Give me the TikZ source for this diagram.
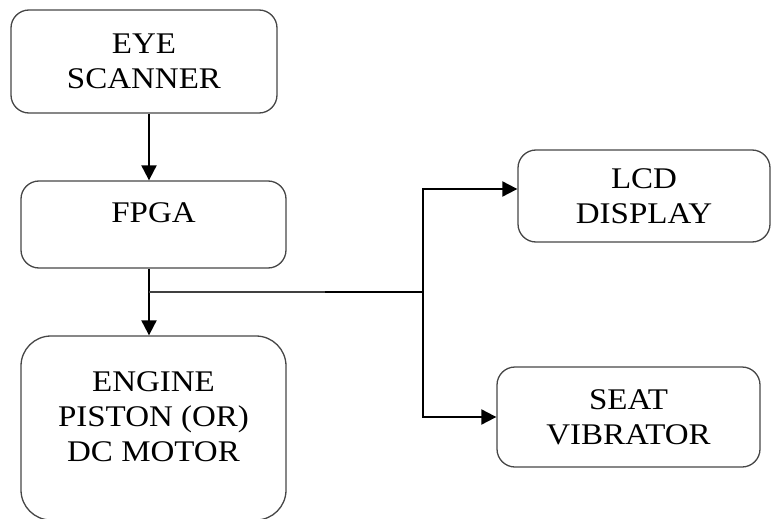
\documentclass[tikz,border=0pt]{standalone}
\usepackage{fontspec}
\setmainfont{Liberation Serif}[FakeStretch=1.1]
\usetikzlibrary{arrows.meta,positioning}
\definecolor{boxline}{RGB}{70,70,70}

\begin{document}
\begin{tikzpicture}[x=1pt,y=-1pt,font=\fontsize{30}{35}\selectfont,
    block/.style={draw=boxline,line width=1.3pt,rounded corners=18pt,align=center,inner sep=0pt},
    flow/.style={line width=2pt,-{Triangle[length=15pt,width=15pt]}}]
  \useasboundingbox (0,0) rectangle (771,519);
  % blocks
  \node[block,minimum width=266,minimum height=103] (eye) at (144,61.5) {EYE\\SCANNER};
  \node[block,minimum width=265,minimum height=87,text depth=23pt] (fpga) at (153.5,224.5) {FPGA};
  \node[block,minimum width=265,minimum height=184,rounded corners=30pt,text depth=22pt] (engine) at (153.5,428) {ENGINE\\PISTON (OR)\\DC MOTOR};
  \node[block,minimum width=252,minimum height=92] (lcd) at (644,196) {LCD\\DISPLAY};
  \node[block,minimum width=263,minimum height=100] (seat) at (628.5,417) {SEAT\\VIBRATOR};
  % wiring
  \coordinate (trunk) at (149,292);
  \coordinate (split) at (325,292);
  \coordinate (bus) at (423,292);
  \draw[flow] (eye.south -| trunk) -- (fpga.north -| trunk);
  \draw[flow] (fpga.south -| trunk) -- (engine.north -| trunk);
  \draw[line width=1.3pt,black!75] (trunk) -- (split);
  \draw[line width=2pt] (split) -- (bus);
  \draw[flow] (bus) |- ([yshift=7pt]lcd.west);
  \draw[flow] (bus) |- (seat.west);
\end{tikzpicture}
\end{document}
